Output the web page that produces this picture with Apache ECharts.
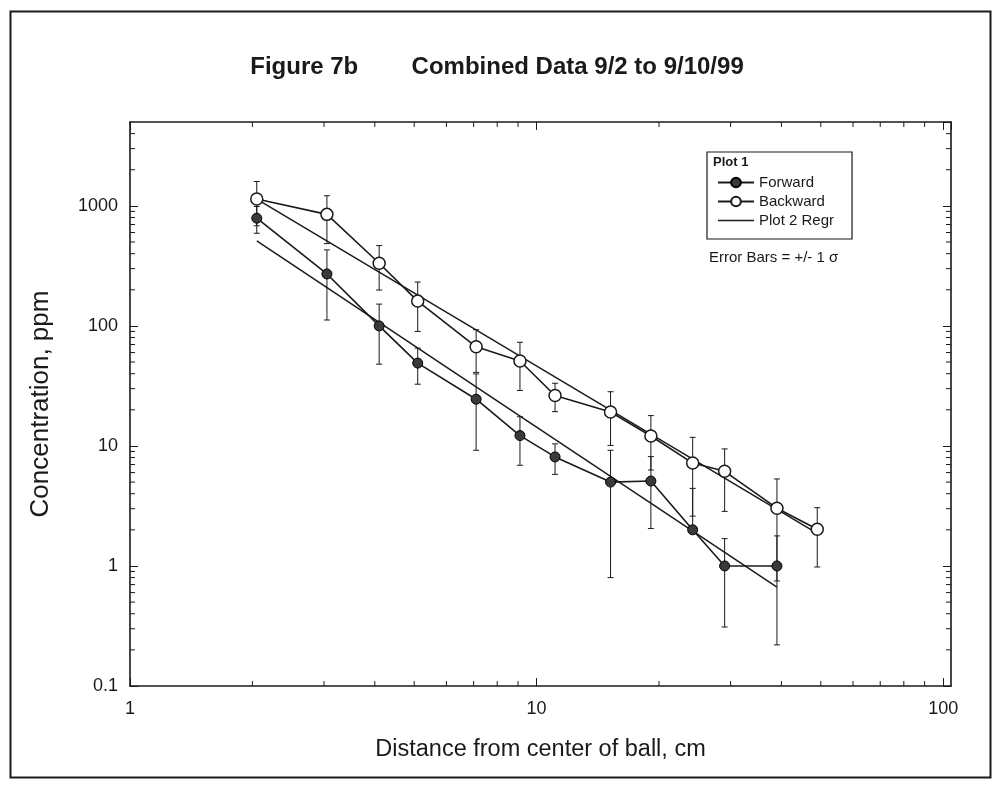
<!DOCTYPE html>
<html><head><meta charset="utf-8">
<script src="https://cdn.jsdelivr.net/npm/echarts@6/dist/echarts.min.js"></script>
<style>html,body{margin:0;padding:0;background:#fff}#c{width:994px;height:793px}</style>
</head><body><div id="c"></div>
<script>
// ---- data ----
const distance = [2.05, 3.05, 4.1, 5.1, 7.1, 9.1, 11.1, 15.2, 19.1, 24.2, 29, 39, 49];
const forwardConc = [790, 271, 100, 49, 24.5, 12.2, 8.1, 5.0, 5.1, 2.0, 1.0, 1.0];
const forwardSigma = [198, 159, 52, 16.3, 15.3, 5.3, 2.3, 4.2, 3.05, 2.43, 0.69, 0.78];
const backwardConc = [1140, 850, 333, 161, 67, 51, 26.3, 19.2, 12.1, 7.2, 6.15, 3.03, 2.02];
const backwardSigma = [457, 365, 134, 71, 26, 22, 7, 9.1, 5.8, 4.6, 3.3, 2.28, 1.04];
const forwardRegrX = [2.05, 39];
const forwardRegrY = [511, 0.665];
const backwardRegrX = [2.05, 49];
const backwardRegrY = [1137, 1.87];
const xTickLabels = [1, 10, 100];
const yTickLabels = [0.1, 1, 10, 100, 1000];
const xMinorTicks = [2, 3, 4, 5, 6, 7, 8, 9, 20, 30, 40, 50, 60, 70, 80, 90];
const yMinorTicks = [0.2, 0.3, 0.4, 0.5, 0.6, 0.7, 0.8, 0.9, 2, 3, 4, 5, 6, 7, 8, 9,
  20, 30, 40, 50, 60, 70, 80, 90, 200, 300, 400, 500, 600, 700, 800, 900, 2000, 3000, 4000];
const xRange = [1, 104.5];
const yRange = [0.1, 5000];

// ---- build ----
const FONT = 'Liberation Sans, Arial, sans-serif';
const INK = '#1a1a1a';
const chart = echarts.init(document.getElementById('c'), null, {renderer: 'canvas'});

const fwdPts = forwardConc.map((v, i) => [distance[i], v]);
const bwdPts = backwardConc.map((v, i) => [distance[i], v]);
const fwdErr = forwardConc.map((v, i) => [distance[i], v, forwardSigma[i]]);
const bwdErr = backwardConc.map((v, i) => [distance[i], v, backwardSigma[i]]);

function errRender(params, api) {
  const x = api.value(0), y = api.value(1), s = api.value(2);
  const hi = api.coord([x, y + s]);
  const mid = api.coord([x, y]);
  const lowVal = y - s;
  const children = [];
  const st = {stroke: INK, lineWidth: 1};
  let lo = null;
  if (lowVal > 0) lo = api.coord([x, lowVal]);
  children.push({type: 'line', shape: {x1: hi[0], y1: hi[1], x2: hi[0], y2: lo ? lo[1] : mid[1]}, style: st});
  children.push({type: 'line', shape: {x1: hi[0] - 3, y1: hi[1], x2: hi[0] + 3, y2: hi[1]}, style: st});
  if (lo) children.push({type: 'line', shape: {x1: lo[0] - 3, y1: lo[1], x2: lo[0] + 3, y2: lo[1]}, style: st});
  return {type: 'group', children};
}

function minorXRender(params, api) {
  const cs = params.coordSys;
  const p = api.coord([api.value(0), 1]);
  const st = {stroke: INK, lineWidth: 1};
  return {type: 'group', children: [
    {type: 'line', shape: {x1: p[0], y1: cs.y + cs.height, x2: p[0], y2: cs.y + cs.height - 5}, style: st},
    {type: 'line', shape: {x1: p[0], y1: cs.y, x2: p[0], y2: cs.y + 5}, style: st}
  ]};
}
function minorYRender(params, api) {
  const cs = params.coordSys;
  const p = api.coord([1, api.value(0)]);
  const st = {stroke: INK, lineWidth: 1};
  return {type: 'group', children: [
    {type: 'line', shape: {x1: cs.x, y1: p[1], x2: cs.x + 5, y2: p[1]}, style: st},
    {type: 'line', shape: {x1: cs.x + cs.width, y1: p[1], x2: cs.x + cs.width - 5, y2: p[1]}, style: st}
  ]};
}

const axisCommon = {
  type: 'log', logBase: 10,
  axisLine: {show: true, onZero: false, lineStyle: {color: INK, width: 1.6}},
  axisTick: {show: true, inside: true, length: 8, lineStyle: {color: INK, width: 1}},
  splitLine: {show: false},
  minorTick: {show: false},
  minorSplitLine: {show: false}
};
const labelFmt = (list) => (v) => {
  for (const t of list) if (Math.abs(v - t) / t < 1e-6) return String(t);
  return '';
};

const option = {
  backgroundColor: '#fff',
  animation: false,
  title: {
    text: 'Figure 7b        Combined Data 9/2 to 9/10/99',
    left: 'center', top: 50,
    textStyle: {fontFamily: FONT, fontWeight: 'bold', fontSize: 24, color: INK}
  },
  grid: {left: 130, top: 122, right: 43, bottom: 107, containLabel: false},
  legend: {
    left: 707, top: 152,
    orient: 'vertical',
    data: [
      {name: 'Forward'},
      {name: 'Backward'},
      {name: 'Plot 2 Regr', icon: 'path://M0,0H40V1.6H0Z'}
    ],
    itemWidth: 36, itemHeight: 12, itemGap: 4,
    padding: [23, 18, 11, 10],
    borderColor: INK, borderWidth: 1.2,
    textStyle: {fontFamily: FONT, fontSize: 15, lineHeight: 15, color: INK},
    inactiveColor: '#999'
  },
  xAxis: [
    Object.assign({}, axisCommon, {
      min: xRange[0], max: xRange[1], position: 'bottom',
      axisLabel: {show: true, fontFamily: FONT, fontSize: 18, color: INK, margin: 14,
        showMaxLabel: false, formatter: labelFmt(xTickLabels)},
      name: 'Distance from center of ball, cm', nameLocation: 'middle', nameGap: 52,
      nameTextStyle: {fontFamily: FONT, fontSize: 23.5, color: INK}
    }),
    Object.assign({}, axisCommon, {
      min: xRange[0], max: xRange[1], position: 'top',
      axisLabel: {show: false}
    })
  ],
  yAxis: [
    Object.assign({}, axisCommon, {
      min: yRange[0], max: yRange[1], position: 'left',
      axisLabel: {show: true, fontFamily: FONT, fontSize: 18, color: INK, margin: 12,
        showMaxLabel: false, formatter: labelFmt(yTickLabels)},
      name: 'Concentration, ppm', nameLocation: 'middle', nameGap: 76,
      nameTextStyle: {fontFamily: FONT, fontSize: 26, color: INK}
    }),
    Object.assign({}, axisCommon, {
      min: yRange[0], max: yRange[1], position: 'right',
      axisLabel: {show: false}
    })
  ],
  series: [
    {type: 'custom', name: 'minorX', renderItem: minorXRender, data: xMinorTicks.map(v => [v]),
      encode: {x: 0}, silent: true, z: 1, clip: false},
    {type: 'custom', name: 'minorY', renderItem: minorYRender, data: yMinorTicks.map(v => [v]),
      encode: {y: 0}, silent: true, z: 1, clip: false},
    {type: 'custom', name: 'fwdErr', renderItem: errRender, data: fwdErr, encode: {x: 0, y: 1}, z: 2, silent: true},
    {type: 'custom', name: 'bwdErr', renderItem: errRender, data: bwdErr, encode: {x: 0, y: 1}, z: 2, silent: true},
    {type: 'line', name: 'Plot 2 Regr', data: forwardRegrX.map((x, i) => [x, forwardRegrY[i]]),
      symbol: 'none', lineStyle: {color: INK, width: 1.5}, itemStyle: {color: INK}, z: 3},
    {type: 'line', name: 'Plot 2 Regr', data: backwardRegrX.map((x, i) => [x, backwardRegrY[i]]),
      symbol: 'none', lineStyle: {color: INK, width: 1.5}, itemStyle: {color: INK}, z: 3},
    {type: 'line', name: 'Forward', data: fwdPts, symbol: 'circle', symbolSize: 10,
      lineStyle: {color: INK, width: 1.6},
      itemStyle: {color: '#3a3a3a', borderColor: '#000', borderWidth: 1}, z: 4},
    {type: 'line', name: 'Backward', data: bwdPts, symbol: 'circle', symbolSize: 12,
      lineStyle: {color: INK, width: 1.6},
      itemStyle: {color: '#fff', borderColor: INK, borderWidth: 1.5}, z: 5}
  ],
  graphic: [
    {type: 'rect', left: 8, top: 9, shape: {width: 980, height: 766},
      style: {fill: 'none', stroke: INK, lineWidth: 2}, silent: true, z: -1},
    {type: 'text', left: 713, top: 156,
      style: {text: 'Plot 1', font: 'bold 13px ' + FONT, fill: INK}},
    {type: 'text', left: 709, top: 250,
      style: {text: 'Error Bars = +/- 1 σ', font: '15px ' + FONT, fill: INK}}
  ]
};
chart.setOption(option);
</script></body></html>
